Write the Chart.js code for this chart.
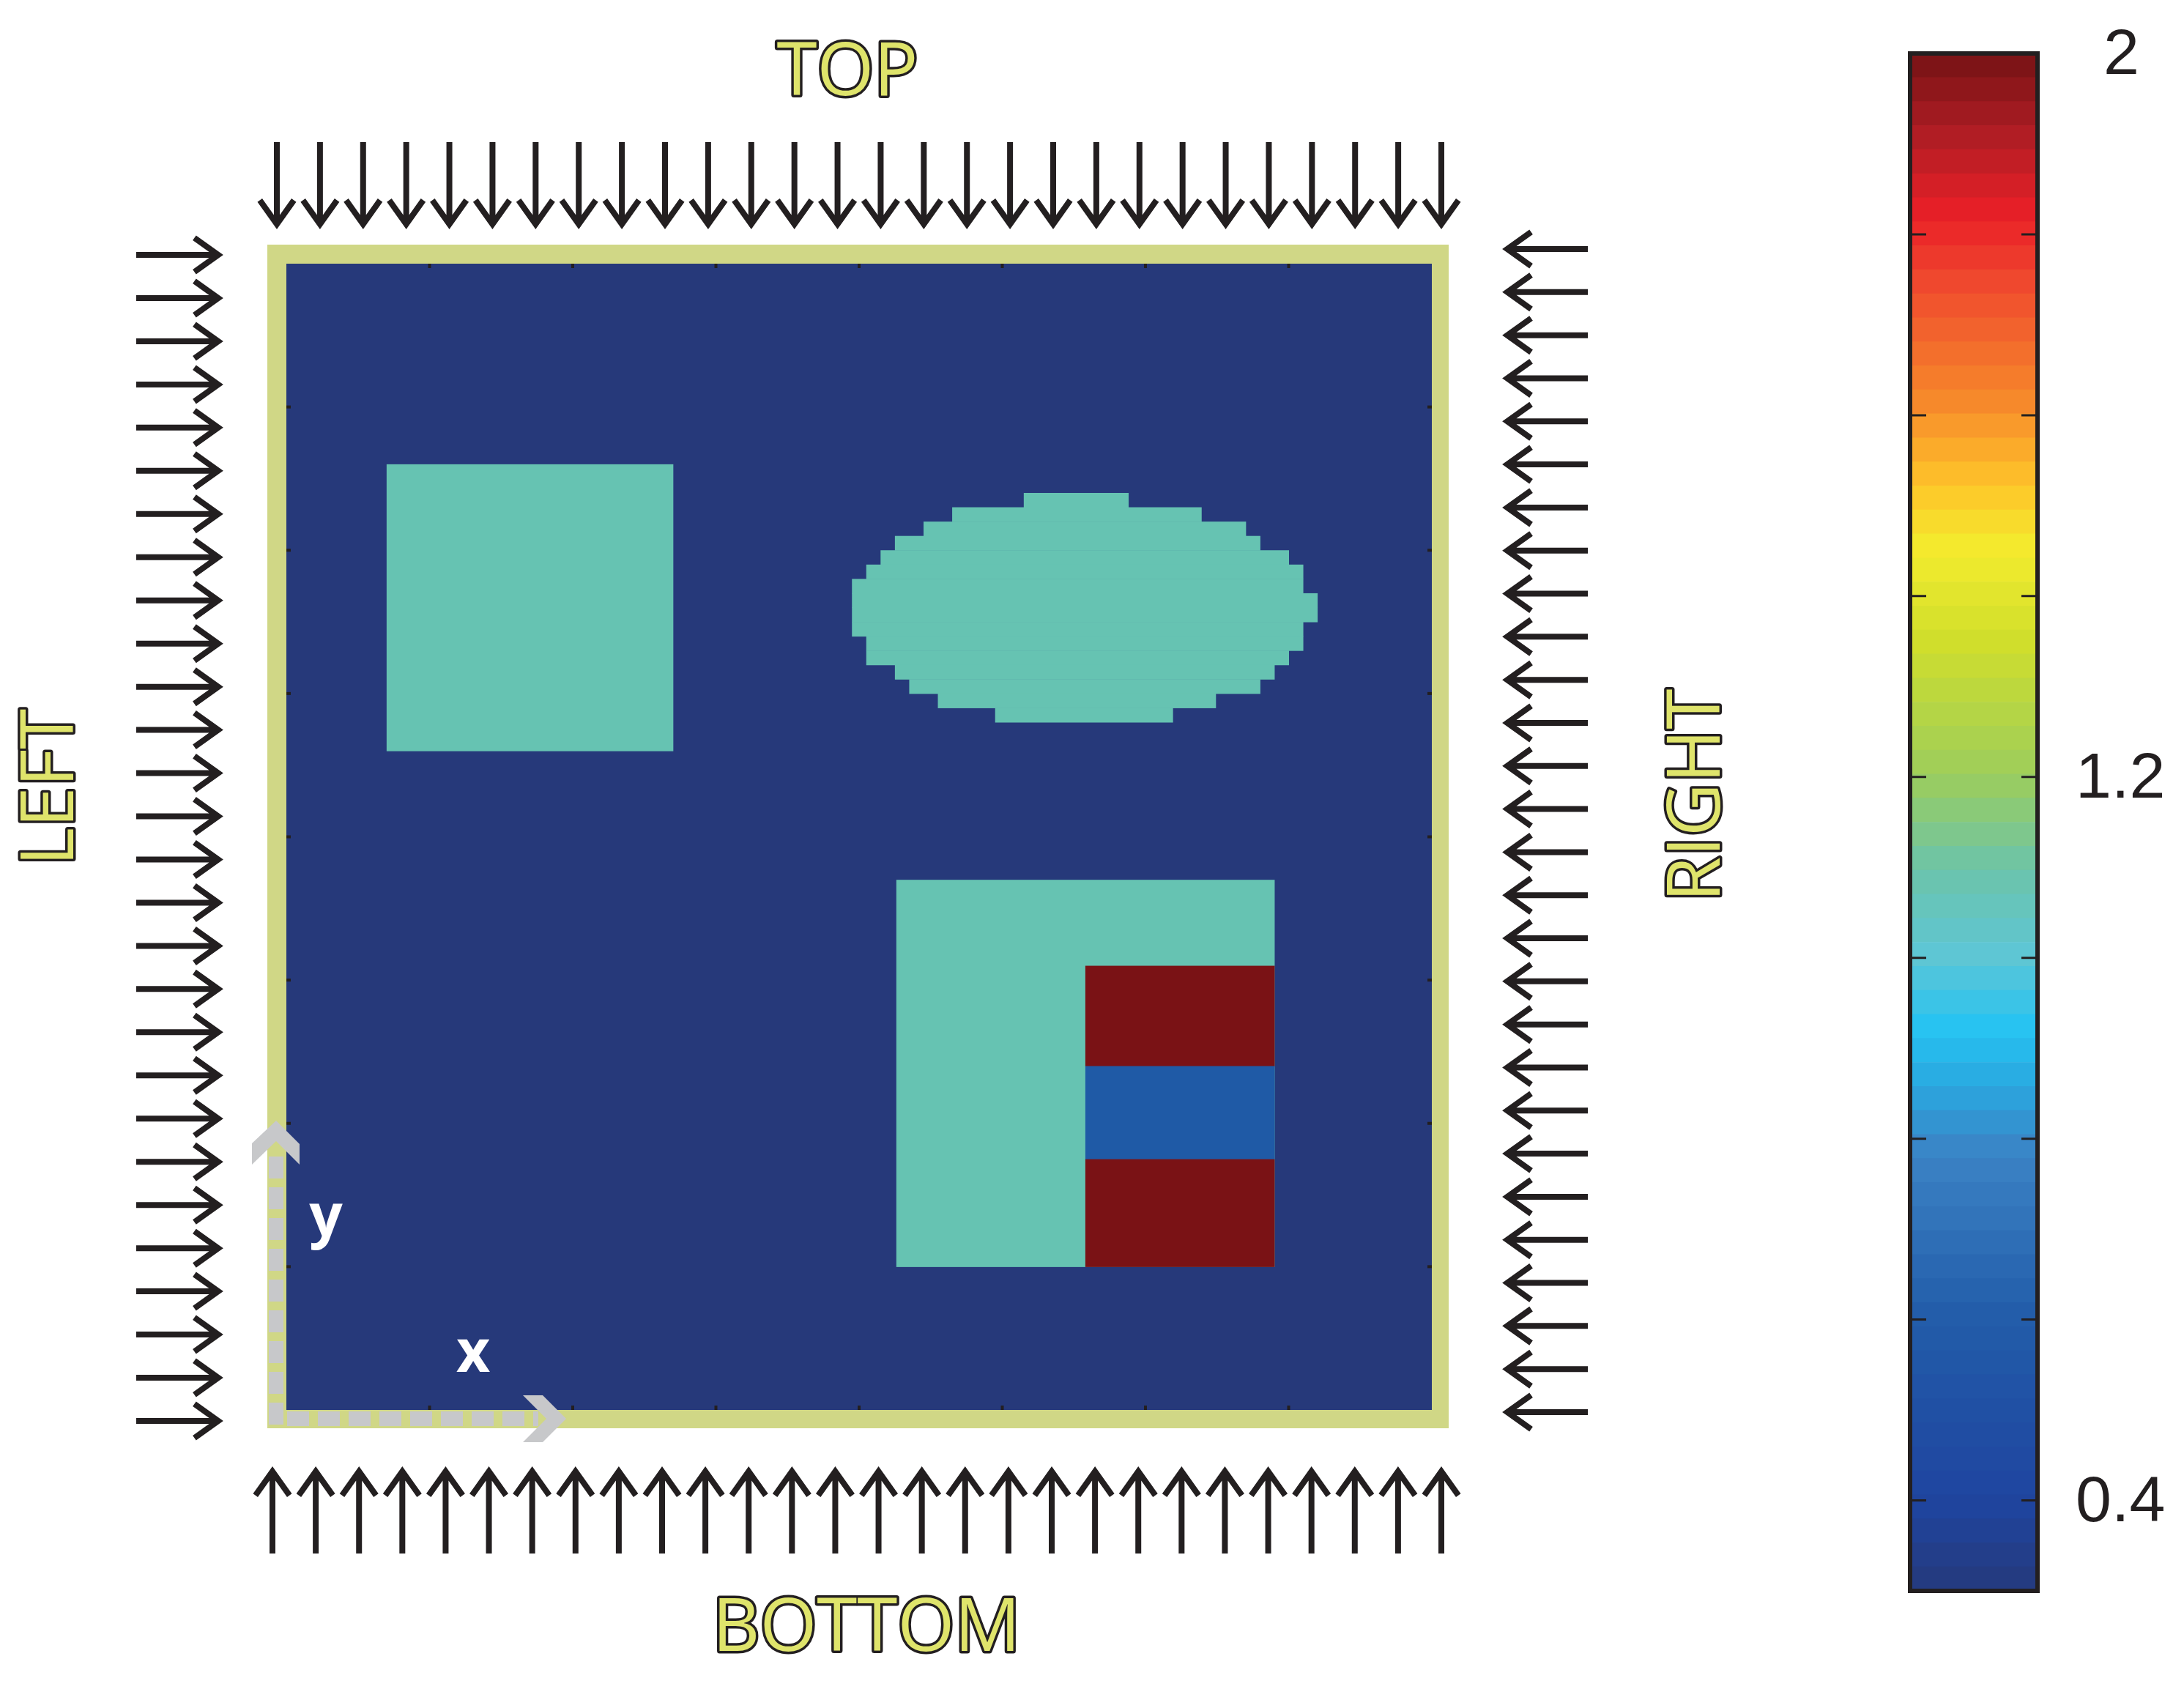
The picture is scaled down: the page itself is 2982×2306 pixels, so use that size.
<!DOCTYPE html>
<html><head><meta charset="utf-8">
<script src="https://cdn.jsdelivr.net/npm/chart.js@4/dist/chart.umd.min.js"></script>
<style>html,body{margin:0;padding:0;background:#fff;}#main{position:absolute;left:0;top:0}#cb{position:absolute;left:2500px;top:0}</style>
</head><body>
<canvas id="main" width="2982" height="2306"></canvas>
<canvas id="cb" width="482" height="2306"></canvas>
<script>
// ---- data (grid units, 80 x 80, y measured upward from bottom) ----
const gridSize = 80;
const backgroundValue = 0.3;
const squareRect = [7, 46, 27, 66];            // x0, y0, x1, y1
const squareValue = 1.0;
const blockRect = [42.6, 10, 69, 37];
const blockValue = 1.0;
const stripeX = [55.8, 69];
const stripeY0 = [24, 17.5, 10];
const stripeY1 = [31, 24, 17.5];
const stripeValues = [2.0, 0.55, 2.0];
const ellipseRowTop = [16,17,18,19,20,21,22,23,24,25,26,27,28,29,30,31];
const ellipseX0 =     [51.5,46.5,44.5,42.5,41.5,40.5,39.5,39.5,39.5,39.5,40.5,40.5,42.5,43.5,45.5,49.5];
const ellipseX1 =     [58.8,63.9,67,68,70,71,71,72,72,71,71,70,69,68,64.9,61.9];
const ellipseValue = 1.0;
// value -> colour of the rendered cells
const cellValues = [0.3, 0.55, 1.0, 2.0];
const cellColors = ['#26397a', '#1f5aa6', '#66c3b2', '#7a1215'];
// colour bar
const cbMin = 0.3, cbMax = 2.0, cbBands = 64;
const cbTickValues = [0.4, 0.6, 0.8, 1.0, 1.2, 1.4, 1.6, 1.8];
const cbLabelValues = [0.4, 1.2, 2];
const cbStopValues = [0.3, 0.4, 0.6, 0.78, 0.86, 0.92, 1.0, 1.1, 1.2, 1.35, 1.45, 1.52, 1.62, 1.75, 1.82, 1.9, 2.0];
const cbStopColors = ['#253a7c','#1f45a0','#225ca9','#3b82c4','#2aa8e0','#25c3f2','#5dc6d6','#6cc4a9','#9ccd5c','#d0de2c','#f3ec2d','#fec62a','#f6862b','#ef472e','#ea1f27','#b51e25','#761215'];

function colorOf(v){ const i = cellValues.indexOf(v); return cellColors[i]; }

const rects = [];
rects.push({x0:0,y0:0,x1:gridSize,y1:gridSize,v:backgroundValue});
rects.push({x0:squareRect[0],y0:squareRect[1],x1:squareRect[2],y1:squareRect[3],v:squareValue});
ellipseRowTop.forEach((r,i)=>rects.push({x0:ellipseX0[i],x1:ellipseX1[i],y0:gridSize-r-1,y1:gridSize-r,v:ellipseValue}));
rects.push({x0:blockRect[0],y0:blockRect[1],x1:blockRect[2],y1:blockRect[3],v:blockValue});
stripeValues.forEach((v,i)=>rects.push({x0:stripeX[0],x1:stripeX[1],y0:stripeY0[i],y1:stripeY1[i],v:v}));

const heatPlugin = {
  id:'heat',
  beforeDatasetsDraw(chart){
    const c = chart.ctx, xs = chart.scales.x, ys = chart.scales.y;
    rects.forEach(r=>{
      const px0 = xs.getPixelForValue(r.x0), px1 = xs.getPixelForValue(r.x1);
      const py0 = ys.getPixelForValue(r.y1), py1 = ys.getPixelForValue(r.y0);
      c.fillStyle = colorOf(r.v);
      c.fillRect(px0, py0, px1-px0+0.5, py1-py0+0.5);
    });
  },
  afterDraw(chart){
    const c = chart.ctx, a = chart.chartArea;
    const xs = chart.scales.x, ys = chart.scales.y;
    c.fillStyle = '#231f20';
    for (let t=10;t<gridSize;t+=10){
      const px = xs.getPixelForValue(t), py = ys.getPixelForValue(t);
      c.fillRect(px-2, a.top, 4, 6); c.fillRect(px-2, a.bottom-6, 4, 6);
      c.fillRect(a.left, py-2, 6, 4); c.fillRect(a.right-6, py-2, 6, 4);
    }
    // yellow frame
    c.fillStyle = '#d0d786';
    c.fillRect(a.left-26, a.top-26, 26, a.bottom-a.top+51);
    c.fillRect(a.left-26, a.top-26, a.right-a.left+49, 26);
    c.fillRect(a.right, a.top-26, 23, a.bottom-a.top+51);
    c.fillRect(a.left, a.bottom, a.right-a.left+23, 25);
    // arrows
    c.strokeStyle = '#231f20'; c.lineWidth = 8; c.lineCap='butt'; c.lineJoin='miter';
    const n = 28;
    function arrow(x1,y1,x2,y2){
      const ang = Math.atan2(y2-y1,x2-x1), L=40, W=0.62;
      c.beginPath(); c.moveTo(x1,y1); c.lineTo(x2,y2);
      c.moveTo(x2-L*Math.cos(ang-W), y2-L*Math.sin(ang-W));
      c.lineTo(x2,y2);
      c.lineTo(x2-L*Math.cos(ang+W), y2-L*Math.sin(ang+W));
      c.stroke();
    }
    for (let i=0;i<n;i++){
      const tx = 378 + i*(1968-378)/(n-1); arrow(tx,194,tx,306);
      const bx = 372 + i*(1968-372)/(n-1); arrow(bx,2121,bx,2009);
      const ly = 348 + i*(1940-348)/(n-1); arrow(186,ly,298,ly);
      const ry = 340 + i*(1928-340)/(n-1); arrow(2168,ry,2058,ry);
    }
    // gray x / y axis arrows
    c.save();
    c.strokeStyle = '#c7c8ca'; c.lineWidth = 20; c.setLineDash([30,12]);
    c.beginPath(); c.moveTo(377,1945); c.lineTo(377,1575); c.stroke();
    c.beginPath(); c.moveTo(392,1937); c.lineTo(735,1937); c.stroke();
    c.setLineDash([]);
    c.fillStyle = '#c7c8ca';
    c.beginPath(); c.moveTo(377,1530); c.lineTo(409,1562); c.lineTo(409,1590); c.lineTo(377,1558); c.lineTo(344,1590); c.lineTo(344,1561); c.closePath(); c.fill();
    c.beginPath(); c.moveTo(773,1937); c.lineTo(741,1969); c.lineTo(714,1969); c.lineTo(746,1937); c.lineTo(714,1905); c.lineTo(741,1905); c.closePath(); c.fill();
    c.restore();
    c.fillStyle = '#ffffff'; c.font = 'bold 80px "Open Sans"'; c.textAlign='center'; c.textBaseline='middle';
    c.fillText('y', 445, 1665); c.fillText('x', 646, 1850);
    function outlined(t,x,y,rot){
      c.save(); c.translate(x,y); c.rotate(rot);
      c.font = '100px "Open Sans"'; c.textAlign='center'; c.textBaseline='middle';
      c.lineWidth = 7; c.strokeStyle = '#231f20'; c.lineJoin='round'; c.strokeText(t,0,0);
      c.fillStyle = '#dfe46b'; c.fillText(t,0,0); c.restore();
    }
    outlined('TOP', 1157, 102, 0);
    outlined('BOTTOM', 1183, 2226, 0);
    outlined('LEFT', 72, 1075, -Math.PI/2);
    outlined('RIGHT', 2320, 1086, -Math.PI/2);
  }
};

new Chart(document.getElementById('main'), {
  type:'scatter',
  data:{datasets:[{data:[]}]},
  options:{
    responsive:false, animation:false, devicePixelRatio:1,
    layout:{padding:{left:391, top:360, right:2982-1955, bottom:2306-1925}},
    plugins:{legend:{display:false}, tooltip:{enabled:false}},
    scales:{
      x:{type:'linear', min:0, max:gridSize, display:false},
      y:{type:'linear', min:0, max:gridSize, display:false}
    }
  },
  plugins:[heatPlugin]
});

// ---- colour bar ----
function hex2rgb(h){ return [1,3,5].map(i=>parseInt(h.substr(i,2),16)); }
function cmap(v){
  for (let i=0;i<cbStopValues.length-1;i++){
    if (v<=cbStopValues[i+1]){
      const t=(v-cbStopValues[i])/(cbStopValues[i+1]-cbStopValues[i]);
      const a=hex2rgb(cbStopColors[i]), b=hex2rgb(cbStopColors[i+1]);
      return 'rgb('+a.map((x,k)=>Math.round(x+(b[k]-x)*t)).join(',')+')';
    }
  }
  return cbStopColors[cbStopColors.length-1];
}
const bandH = (cbMax-cbMin)/cbBands;
const cbDatasets = [];
for (let i=0;i<cbBands;i++){
  const lo = cbMin+i*bandH, hi = lo+bandH;
  cbDatasets.push({data:[[lo,hi]], backgroundColor:cmap(lo+bandH/2), borderWidth:0, barPercentage:1, categoryPercentage:1, grouped:false, borderSkipped:false});
}
const cbPlugin = {
  id:'cbdeco',
  afterDraw(chart){
    const c = chart.ctx, a = chart.chartArea, ys = chart.scales.y;
    c.strokeStyle = '#231f20'; c.lineWidth = 6;
    c.strokeRect(a.left, a.top, a.right-a.left, a.bottom-a.top);
    c.lineWidth = 3;
    cbTickValues.forEach(v=>{
      const py = ys.getPixelForValue(v);
      c.beginPath(); c.moveTo(a.left,py); c.lineTo(a.left+22,py); c.moveTo(a.right,py); c.lineTo(a.right-22,py); c.stroke();
    });
    c.fillStyle = '#231f20'; c.font = '88px "Liberation Sans"'; c.textAlign='left'; c.textBaseline='middle';
    cbLabelValues.forEach(v=>{
      const py = ys.getPixelForValue(v);
      c.fillText(String(v), v===2 ? 372 : 334, py+4);
    });
  }
};
new Chart(document.getElementById('cb'), {
  type:'bar',
  data:{labels:[''], datasets:cbDatasets},
  options:{
    responsive:false, animation:false, devicePixelRatio:1,
    layout:{padding:{left:108, right:482-282, top:73, bottom:2306-2172}},
    plugins:{legend:{display:false}, tooltip:{enabled:false}},
    scales:{
      x:{display:false},
      y:{min:cbMin, max:cbMax, display:false}
    }
  },
  plugins:[cbPlugin]
});
</script>
</body></html>
